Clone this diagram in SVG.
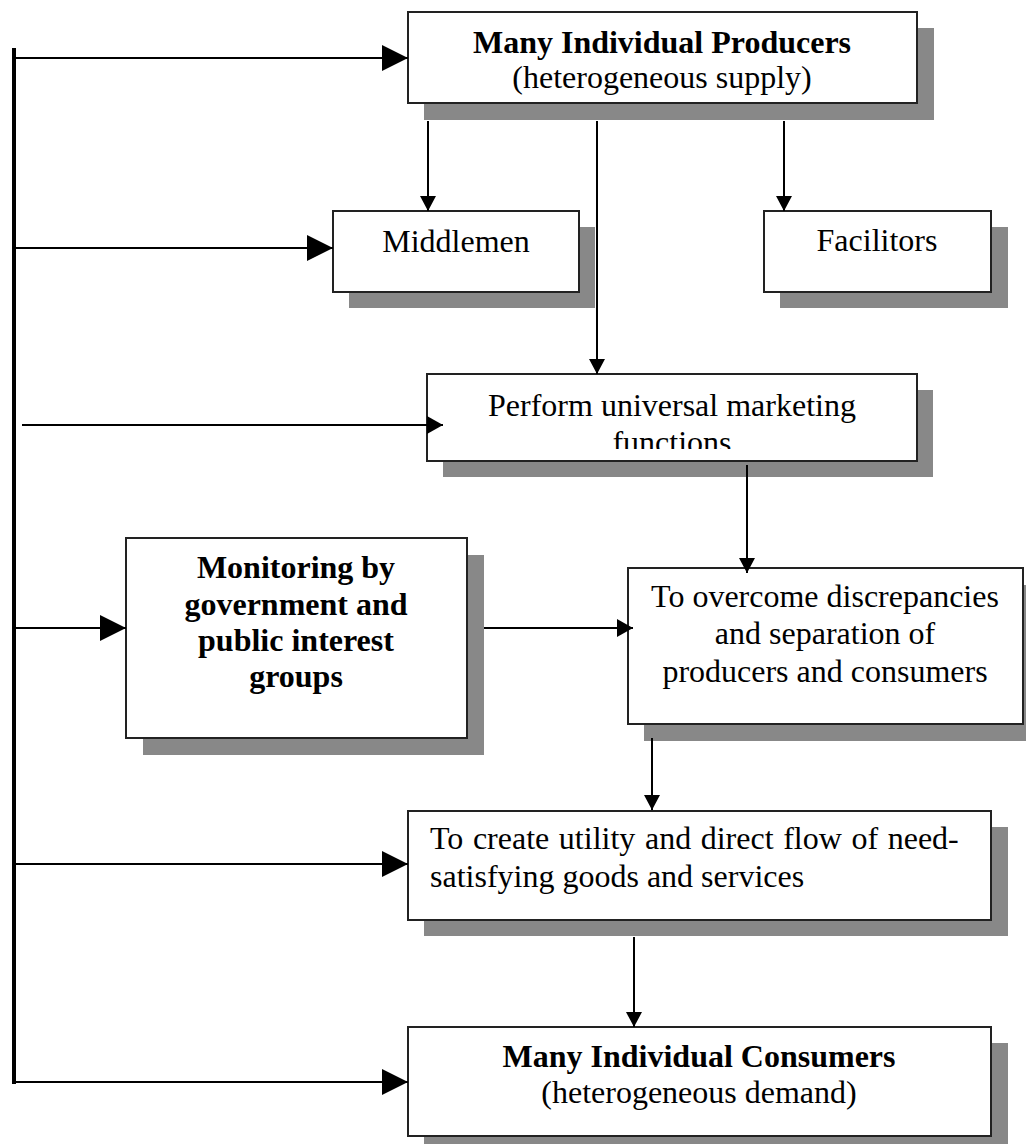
<svg xmlns="http://www.w3.org/2000/svg" width="1026" height="1144" viewBox="0 0 1026 1144">
<style>
.shadow{fill:#888}
.box{fill:#fff;stroke:#222;stroke-width:2}
.t{font-family:"Liberation Serif","Times New Roman",serif;font-size:32px;fill:#000;text-anchor:middle}
.b{font-weight:bold}
.ln{stroke:#000;stroke-width:2;fill:none}
</style>
<defs>
<marker id="big" markerUnits="userSpaceOnUse" markerWidth="26" markerHeight="26" refX="26" refY="13" orient="auto"><path d="M0,0 L26,13 L0,26 z" fill="#000"/></marker>
<marker id="mid" markerUnits="userSpaceOnUse" markerWidth="16" markerHeight="18" refX="16" refY="9" orient="auto"><path d="M0,0 L16,9 L0,18 z" fill="#000"/></marker>
<marker id="sm" markerUnits="userSpaceOnUse" markerWidth="15" markerHeight="16" refX="15" refY="8" orient="auto"><path d="M0,0 L15,8 L0,16 z" fill="#000"/></marker>
<clipPath id="clipPerform"><rect x="427" y="374" width="490" height="75"/></clipPath>
</defs>
<rect width="1026" height="1144" fill="#fff"/>

<g id="producers">
<rect class="shadow" x="424" y="28" width="510" height="92"/>
<rect class="box" x="408" y="12" width="509" height="91"/>
<text class="t b" x="662" y="53">Many Individual Producers</text>
<text class="t" x="662" y="88">(heterogeneous supply)</text>
</g>

<g id="middlemen">
<rect class="shadow" x="349" y="227" width="246" height="81"/>
<rect class="box" x="333" y="211" width="246" height="81"/>
<text class="t" x="456" y="252">Middlemen</text>
</g>

<g id="facilitors">
<rect class="shadow" x="780" y="227" width="228" height="81"/>
<rect class="box" x="764" y="211" width="227" height="81"/>
<text class="t" x="877" y="251">Facilitors</text>
</g>

<g id="perform">
<rect class="shadow" x="443" y="390" width="490" height="87"/>
<rect class="box" x="427" y="374" width="490" height="87"/>
<text class="t" x="672" y="416">Perform universal marketing</text>
<text class="t" x="672" y="453" clip-path="url(#clipPerform)">functions</text>
</g>

<g id="monitoring">
<rect class="shadow" x="143" y="555" width="341" height="200"/>
<rect class="box" x="126" y="538" width="341" height="200"/>
<text class="t b" x="296" y="578">Monitoring by</text>
<text class="t b" x="296" y="615">government and</text>
<text class="t b" x="296" y="651">public interest</text>
<text class="t b" x="296" y="687">groups</text>
</g>

<g id="overcome">
<rect class="shadow" x="644" y="585" width="395" height="156"/>
<rect class="box" x="628" y="568" width="395" height="156"/>
<text class="t" x="825" y="607">To overcome discrepancies</text>
<text class="t" x="825" y="644">and separation of</text>
<text class="t" x="825" y="682">producers and consumers</text>
</g>

<g id="create">
<rect class="shadow" x="424" y="827" width="584" height="109"/>
<rect class="box" x="408" y="811" width="583" height="109"/>
<text class="t" x="430" y="849" style="text-anchor:start" word-spacing="1.6">To create utility and direct flow of need-</text>
<text class="t" x="430" y="887" style="text-anchor:start">satisfying goods and services</text>
</g>

<g id="consumers">
<rect class="shadow" x="424" y="1043" width="584" height="109"/>
<rect class="box" x="408" y="1027" width="583" height="109"/>
<text class="t b" x="699" y="1067">Many Individual Consumers</text>
<text class="t" x="699" y="1103">(heterogeneous demand)</text>
</g>

<g id="connectors">
<line x1="14" y1="48" x2="14" y2="1084" stroke="#000" stroke-width="4"/>
<line class="ln" x1="14" y1="58" x2="408" y2="58" marker-end="url(#big)"/>
<line class="ln" x1="14" y1="248" x2="333" y2="248" marker-end="url(#big)"/>
<line class="ln" x1="22" y1="425" x2="443" y2="425" marker-end="url(#mid)"/>
<line class="ln" x1="14" y1="628" x2="126" y2="628" marker-end="url(#big)"/>
<line class="ln" x1="14" y1="864" x2="408" y2="864" marker-end="url(#big)"/>
<line class="ln" x1="14" y1="1082" x2="408" y2="1082" marker-end="url(#big)"/>
<line class="ln" x1="428" y1="121" x2="428" y2="211" marker-end="url(#sm)"/>
<line class="ln" x1="597" y1="121" x2="597" y2="374" marker-end="url(#sm)"/>
<line class="ln" x1="784" y1="121" x2="784" y2="211" marker-end="url(#sm)"/>
<line class="ln" x1="747" y1="465" x2="747" y2="573" marker-end="url(#sm)"/>
<line class="ln" x1="484" y1="628" x2="633" y2="628" marker-end="url(#mid)"/>
<line class="ln" x1="652" y1="738" x2="652" y2="810" marker-end="url(#sm)"/>
<line class="ln" x1="634" y1="937" x2="634" y2="1027" marker-end="url(#sm)"/>
</g>
</svg>
